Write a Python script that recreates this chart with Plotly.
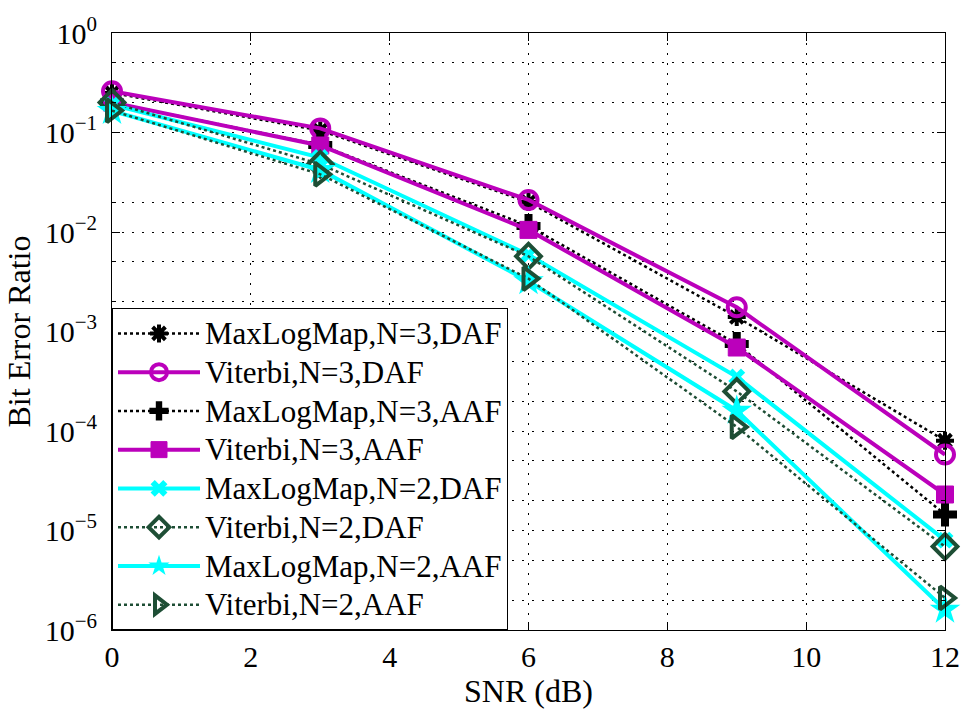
import plotly.graph_objects as go

# SNR points (dB)
snr = [0, 3, 6, 9, 12]

# Bit error ratio per detector / relay configuration
mlm_n3_daf = [0.25, 0.105, 0.020, 1.4e-3, 8.0e-5]
vit_n3_daf = [0.26, 0.110, 0.021, 1.75e-3, 5.8e-5]
mlm_n3_aaf = [0.20, 0.075, 0.0115, 7.5e-4, 1.45e-5]
vit_n3_aaf = [0.20, 0.074, 0.0105, 6.9e-4, 2.3e-5]
mlm_n2_daf = [0.19, 0.056, 5.9e-3, 3.5e-4, 8.0e-6]
vit_n2_daf = [0.20, 0.048, 5.7e-3, 2.5e-4, 6.9e-6]
mlm_n2_aaf = [0.165, 0.042, 3.2e-3, 1.6e-4, 1.6e-6]
vit_n2_aaf = [0.166, 0.038, 3.4e-3, 1.1e-4, 2.1e-6]

names = [
    "MaxLogMap,N=3,DAF", "Viterbi,N=3,DAF", "MaxLogMap,N=3,AAF", "Viterbi,N=3,AAF",
    "MaxLogMap,N=2,DAF", "Viterbi,N=2,DAF", "MaxLogMap,N=2,AAF", "Viterbi,N=2,AAF",
]
series = [mlm_n3_daf, vit_n3_daf, mlm_n3_aaf, vit_n3_aaf,
          mlm_n2_daf, vit_n2_daf, mlm_n2_aaf, vit_n2_aaf]

xticks = [0, 2, 4, 6, 8, 10, 12]
ytick_exps = [-6, -5, -4, -3, -2, -1, 0]

MAG = "#BB00BB"
CYN = "#00FFFF"
DGR = "#1E4E35"
BLK = "#000000"

styles = [
    dict(line=dict(color=BLK, width=2.5, dash="dot"),
         marker=dict(symbol="asterisk-open", size=15, color=BLK, line=dict(color=BLK, width=4))),
    dict(line=dict(color=MAG, width=4),
         marker=dict(symbol="circle-open", size=18, color=MAG, line=dict(color=MAG, width=4))),
    dict(line=dict(color=BLK, width=2.5, dash="dot"),
         marker=dict(symbol="cross", size=20, color=BLK, line=dict(width=0))),
    dict(line=dict(color=MAG, width=4),
         marker=dict(symbol="square", size=17, color=MAG, line=dict(color=MAG, width=1))),
    dict(line=dict(color=CYN, width=4),
         marker=dict(symbol="x", size=15, color=CYN, line=dict(width=0))),
    dict(line=dict(color=DGR, width=2.5, dash="dot"),
         marker=dict(symbol="diamond-open", size=19, color=DGR, line=dict(color=DGR, width=4))),
    dict(line=dict(color=CYN, width=4),
         marker=dict(symbol="star", size=23, color=CYN, line=dict(width=0))),
    dict(line=dict(color=DGR, width=2.5, dash="dot"),
         marker=dict(symbol="triangle-right-open", size=20, color=DGR, line=dict(color=DGR, width=4))),
]

FONT = "Liberation Serif"
LEGEND_TEXT_PX = 31     # visible legend text size
LEGEND_ROW_FONT = 27.5  # sets the legend row pitch

fig = go.Figure()
for name, ys, st in zip(names, series, styles):
    label = '<span style="font-size:%dpx">%s</span>' % (LEGEND_TEXT_PX, name)
    fig.add_trace(go.Scatter(x=snr, y=ys, name=label, mode="lines+markers",
                             cliponaxis=False, **st))

grid_dash = "2px,8px"

fig.update_layout(
    width=972, height=711,
    margin=dict(l=112, r=18, t=33, b=71),
    paper_bgcolor="white", plot_bgcolor="white",
    font=dict(family=FONT, size=30, color="black"),
    showlegend=True,
    legend=dict(x=0, y=0, xanchor="left", yanchor="bottom",
                bgcolor="white", bordercolor="black", borderwidth=1,
                font=dict(family=FONT, size=LEGEND_ROW_FONT, color="black"),
                tracegroupgap=0, itemwidth=82),
)

fig.update_xaxes(
    range=[0, 12], tickvals=xticks, ticktext=[str(v) for v in xticks],
    showline=True, linecolor="black", linewidth=1, mirror="ticks",
    ticks="inside", ticklen=8, tickcolor="black",
    showgrid=True, gridcolor="black", gridwidth=1, griddash=grid_dash,
    zeroline=False,
    title=dict(text="SNR (dB)", font=dict(family=FONT, size=32), standoff=4),
    tickfont=dict(family=FONT, size=30),
)

fig.update_yaxes(
    type="log", range=[-6, 0],
    tickvals=[10.0 ** e for e in ytick_exps],
    ticktext=["10<sup>%s</sup>" % (str(e).replace("-", "\u2212")) for e in ytick_exps],
    showline=True, linecolor="black", linewidth=1, mirror="ticks",
    ticks="inside", ticklen=8, tickcolor="black",
    showgrid=True, gridcolor="black", gridwidth=1, griddash=grid_dash,
    zeroline=False,
    ticklabelstandoff=8,
    minor=dict(ticks="inside", ticklen=4, tickcolor="black",
               showgrid=True, gridcolor="black", gridwidth=1, griddash=grid_dash),
    title=dict(text="Bit Error Ratio", font=dict(family=FONT, size=32), standoff=4),
    tickfont=dict(family=FONT, size=30),
)

fig.write_html("out.html")
